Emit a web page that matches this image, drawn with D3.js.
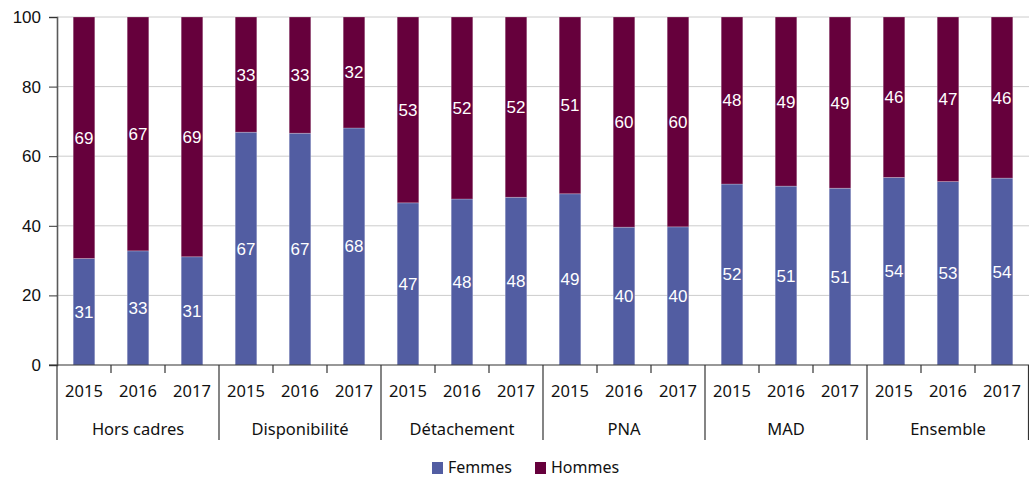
<!DOCTYPE html>
<html lang="fr">
<head>
<meta charset="UTF-8">
<title>Femmes / Hommes par position</title>
<style>
  body { margin: 0; background: #fff; }
  svg { display: block; }
</style>
</head>
<body>
<div id="chart"></div>
<script src="https://d3js.org/d3.v7.min.js"></script>
<script>
const groups = ["Hors cadres", "Disponibilité", "Détachement", "PNA", "MAD", "Ensemble"];
const years = ["2015", "2016", "2017"];
const femmes = [30.6, 32.8, 31.1, 66.9, 66.6, 68.1, 46.6, 47.7, 48.2, 49.2, 39.6, 39.7, 52.0, 51.4, 50.8, 53.9, 52.7, 53.7];
const hommes = [69.4, 67.2, 68.9, 33.1, 33.4, 31.9, 53.4, 52.3, 51.8, 50.8, 60.4, 60.3, 48.0, 48.6, 49.2, 46.1, 47.3, 46.3];
const yTicks = [0, 20, 40, 60, 80, 100];
const seriesNames = ["Femmes", "Hommes"];
const colors = ["#525da2", "#66003c"];

const width = 1029, height = 478;
const margin = { top: 17, right: 0, bottom: 113, left: 57 };

const svg = d3.select("#chart").append("svg")
    .attr("width", width)
    .attr("height", height);

// one row per bar
const rows = [];
groups.forEach((g, gi) => years.forEach((yr, yi) => {
    const i = gi * years.length + yi;
    rows.push({ key: g + "|" + yr, group: g, year: yr, Femmes: femmes[i], Hommes: hommes[i] });
}));

const x = d3.scaleBand()
    .domain(rows.map(d => d.key))
    .range([margin.left, width - margin.right])
    .paddingInner(0.6)
    .paddingOuter(0.3);

const y = d3.scaleLinear()
    .domain([0, 100])
    .range([height - margin.bottom, margin.top]);

const color = d3.scaleOrdinal().domain(seriesNames).range(colors);

// gridlines
svg.append("g")
    .selectAll("line")
    .data(yTicks.filter(t => t > 0))
    .join("line")
    .attr("x1", margin.left)
    .attr("x2", width)
    .attr("y1", d => y(d))
    .attr("y2", d => y(d))
    .attr("stroke", "#cccccc")
    .attr("stroke-width", 1);

const stack = d3.stack().keys(seriesNames)(rows);

const layers = svg.append("g")
    .selectAll("g")
    .data(stack)
    .join("g")
    .attr("fill", d => color(d.key));

layers.selectAll("rect")
    .data(d => d)
    .join("rect")
    .attr("x", d => x(d.data.key))
    .attr("width", x.bandwidth())
    .attr("y", d => y(d[1]))
    .attr("height", d => y(d[0]) - y(d[1]))
    .attr("stroke", "#ffffff")
    .attr("stroke-opacity", 0.3)
    .attr("stroke-width", 0.8);

layers.selectAll("text")
    .data(d => d)
    .join("text")
    .attr("x", d => x(d.data.key) + x.bandwidth() / 2)
    .attr("y", d => y((d[0] + d[1]) / 2))
    .attr("dy", "0.35em")
    .attr("text-anchor", "middle")
    .attr("fill", "#ffffff")
    .attr("font-family", "'Liberation Sans', Arial, sans-serif")
    .attr("font-size", "17px")
    .text(d => d3.format(".0f")(d[1] - d[0]));

// y axis
const yAxis = svg.append("g")
    .attr("transform", `translate(${margin.left},0)`)
    .call(d3.axisLeft(y).tickValues(yTicks).tickSize(8).tickPadding(8))
    .attr("font-family", "'Liberation Sans', Arial, sans-serif")
    .attr("font-size", "17px");
yAxis.select(".domain").attr("stroke", "#5a5a5a").attr("stroke-width", 1.6);
yAxis.selectAll(".tick line").attr("stroke", "#333");
yAxis.selectAll(".tick text").attr("fill", "#111");

// x axis: baseline
const y0 = y(0);
svg.append("line")
    .attr("x1", margin.left - 8).attr("x2", width)
    .attr("y1", y0).attr("y2", y0)
    .attr("stroke", "#333").attr("stroke-width", 1.2);

const step = x.step();
const gap = (step - x.bandwidth()) / 2;
const groupStart = gi => x(rows[gi * years.length].key) - gap;

// separators between groups
svg.append("g")
    .selectAll("line")
    .data(d3.range(groups.length + 1))
    .join("line")
    .attr("x1", gi => gi < groups.length ? groupStart(gi) : groupStart(gi - 1) + step * years.length - 0.5)
    .attr("x2", gi => gi < groups.length ? groupStart(gi) : groupStart(gi - 1) + step * years.length - 0.5)
    .attr("y1", y0)
    .attr("y2", y0 + 75)
    .attr("stroke", "#333")
    .attr("stroke-width", 1.2);

// small ticks between years
svg.append("g")
    .selectAll("line")
    .data(rows.filter((d, i) => i % years.length !== 0))
    .join("line")
    .attr("x1", d => x(d.key) - gap)
    .attr("x2", d => x(d.key) - gap)
    .attr("y1", y0)
    .attr("y2", y0 + 8)
    .attr("stroke", "#333")
    .attr("stroke-width", 1.2);

const labelFont = "'Noto Sans', 'Open Sans', sans-serif";

// year labels
svg.append("g")
    .selectAll("text")
    .data(rows)
    .join("text")
    .attr("x", d => x(d.key) + x.bandwidth() / 2)
    .attr("y", y0 + 32)
    .attr("text-anchor", "middle")
    .attr("font-family", labelFont)
    .attr("font-size", "16.5px")
    .attr("fill", "#111")
    .text(d => d.year);

// group labels
svg.append("g")
    .selectAll("text")
    .data(groups)
    .join("text")
    .attr("x", (g, gi) => groupStart(gi) + step * years.length / 2)
    .attr("y", y0 + 70)
    .attr("text-anchor", "middle")
    .attr("font-family", labelFont)
    .attr("font-size", "16.5px")
    .attr("fill", "#111")
    .text(g => g);

// legend
const legend = svg.append("g")
    .attr("transform", "translate(432,462)");
const legendX = [0, 103];
const items = legend.selectAll("g")
    .data(seriesNames)
    .join("g")
    .attr("transform", (d, i) => `translate(${legendX[i]},0)`);
items.append("rect")
    .attr("width", 11).attr("height", 12)
    .attr("fill", d => color(d));
items.append("text")
    .attr("x", 16).attr("y", 11)
    .attr("font-family", labelFont)
    .attr("font-size", "16px")
    .attr("fill", "#111")
    .text(d => d);
</script>
</body>
</html>
